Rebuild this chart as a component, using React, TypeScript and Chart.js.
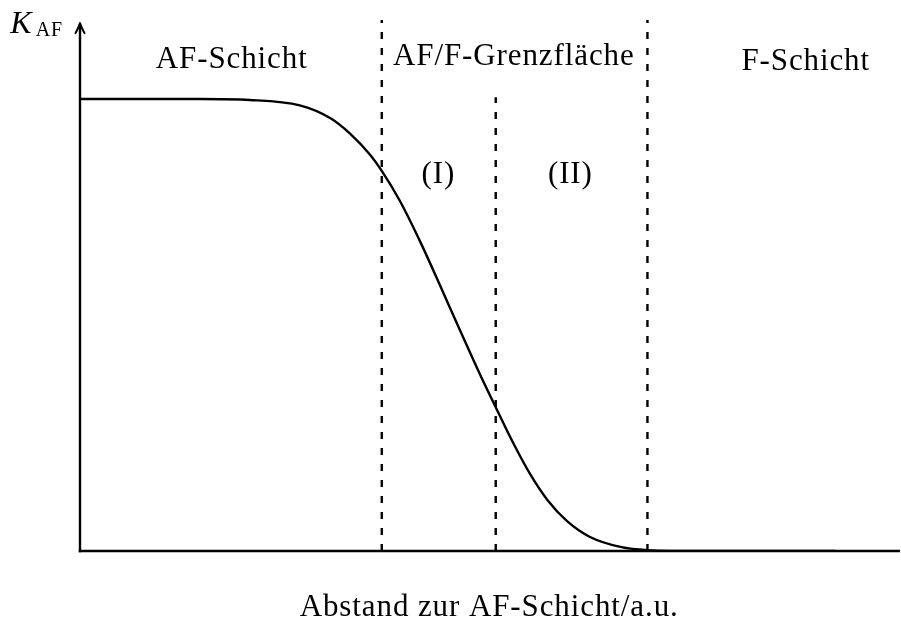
import React, { useEffect, useRef } from "react";
import { Chart, registerables } from "chart.js";

Chart.register(...registerables);

// ---- data (abstract units) ----
const curveX = [0, 1.46, 2.07, 2.68, 3.05, 3.29, 3.54, 3.68, 3.9, 4.15, 4.39, 4.63, 4.88, 5.07, 5.28, 5.49, 5.7, 5.94, 6.22, 6.59, 6.92, 7.56, 9.21];
const curveY = [1.0, 1.0, 0.998, 0.986, 0.958, 0.924, 0.876, 0.841, 0.775, 0.684, 0.588, 0.49, 0.39, 0.318, 0.24, 0.17, 0.113, 0.066, 0.031, 0.009, 0.002, 0, 0];
const boundaryX = [3.68, 5.07, 6.92];
const boundaryTop = [1.175, 1.004, 1.175];
const regionLabels = ["AF-Schicht", "AF/F-Grenzfläche", "F-Schicht"];
const subRegionLabels = ["(I)", "(II)"];
const yAxisSymbol = "K";
const yAxisSubscript = "AF";
const xAxisLabel = "Abstand zur AF-Schicht/a.u.";
const xMin = 0;
const xMax = 10;
const yMin = 0;
const yMax = 1.186;

// ---- label anchors (data units) ----
const regionLabelAnchors = [
  { x: 1.85, y: 1.069 },
  { x: 5.29, y: 1.075 },
  { x: 8.85, y: 1.064 },
];
const subRegionAnchors = [
  { x: 4.37, y: 0.814 },
  { x: 5.98, y: 0.814 },
];
const xLabelAnchor = { x: 4.99, y: -0.144 };
const yLabelAnchor = { x: -0.85, y: 1.146 };
const axisArrowTop = 1.168;

const FONT = "'Liberation Serif', 'DejaVu Serif', serif";

const overlayPlugin = {
  id: "overlay",
  afterDatasetsDraw(chart: any) {
    const { ctx } = chart;
    const xs = chart.scales.x;
    const ys = chart.scales.y;
    const px = (v: number) => xs.getPixelForValue(v);
    const py = (v: number) => ys.getPixelForValue(v);
    const x0 = px(xMin);
    const y0 = py(yMin);
    ctx.save();
    ctx.strokeStyle = "#000";
    ctx.fillStyle = "#000";
    ctx.lineCap = "butt";
    ctx.lineWidth = 2.4;
    // x axis
    ctx.beginPath();
    ctx.moveTo(x0 - 1.2, y0);
    ctx.lineTo(px(xMax), y0);
    ctx.stroke();
    // y axis
    const yTop = py(axisArrowTop);
    ctx.beginPath();
    ctx.moveTo(x0, y0 + 1.2);
    ctx.lineTo(x0, yTop + 1);
    ctx.stroke();
    // arrow head
    ctx.lineWidth = 2;
    ctx.lineCap = "round";
    ctx.lineJoin = "round";
    ctx.beginPath();
    ctx.moveTo(x0 - 4.5, yTop + 10);
    ctx.quadraticCurveTo(x0 - 1, yTop + 3.5, x0, yTop);
    ctx.quadraticCurveTo(x0 + 1, yTop + 3.5, x0 + 4.5, yTop + 10);
    ctx.stroke();

    // texts
    ctx.textBaseline = "alphabetic";
    ctx.textAlign = "center";
    ctx.font = `31px ${FONT}`;
    (ctx as any).letterSpacing = "0.9px";
    regionLabels.forEach((t, i) => {
      ctx.fillText(t, px(regionLabelAnchors[i].x), py(regionLabelAnchors[i].y));
    });
    subRegionLabels.forEach((t, i) => {
      ctx.fillText(t, px(subRegionAnchors[i].x), py(subRegionAnchors[i].y));
    });
    ctx.fillText(xAxisLabel, px(xLabelAnchor.x), py(xLabelAnchor.y));

    // y label K_AF
    ctx.textAlign = "left";
    (ctx as any).letterSpacing = "0px";
    ctx.font = `italic 32px ${FONT}`;
    const kx = px(yLabelAnchor.x);
    const ky = py(yLabelAnchor.y);
    ctx.fillText(yAxisSymbol, kx, ky);
    const kw = ctx.measureText(yAxisSymbol).width;
    ctx.font = `20px ${FONT}`;
    (ctx as any).letterSpacing = "1px";
    ctx.fillText(yAxisSubscript, kx + kw + 4, ky + 3);
    ctx.restore();
  },
};

export default function App() {
  const canvasRef = useRef<HTMLCanvasElement | null>(null);

  useEffect(() => {
    const canvas = canvasRef.current;
    if (!canvas) return;
    const curve = curveX.map((x, i) => ({ x, y: curveY[i] }));
    const boundaries = boundaryX.map((bx, i) => ({
      data: [
        { x: bx, y: yMin },
        { x: bx, y: boundaryTop[i] },
      ],
      borderColor: "#000",
      borderWidth: 2.4,
      borderDash: [7, 9],
      pointRadius: 0,
      fill: false,
    }));
    const chart = new Chart(canvas, {
      type: "line",
      data: {
        datasets: [
          {
            data: curve,
            borderColor: "#000",
            borderWidth: 2.4,
            pointRadius: 0,
            fill: false,
            cubicInterpolationMode: "monotone",
          },
          ...boundaries,
        ],
      } as any,
      options: {
        animation: false,
        responsive: false,
        devicePixelRatio: 1,
        layout: { padding: { left: 80, right: 1, top: 15, bottom: 80 } },
        plugins: {
          legend: { display: false },
          tooltip: { enabled: false },
          title: { display: false },
        },
        scales: {
          x: { type: "linear", min: xMin, max: xMax, display: false },
          y: { type: "linear", min: yMin, max: yMax, display: false },
        },
        events: [],
      } as any,
      plugins: [overlayPlugin],
    });
    return () => chart.destroy();
  }, []);

  return (
    <div style={{ position: "absolute", left: 0, top: 0, width: 901, height: 631, background: "#fff" }}>
      <canvas ref={canvasRef} width={901} height={631} style={{ display: "block", width: 901, height: 631 }} />
    </div>
  );
}
